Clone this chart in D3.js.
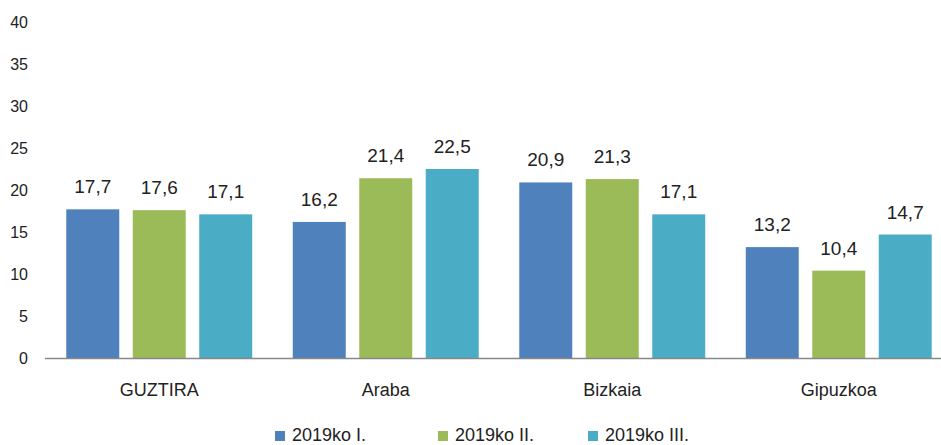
<!DOCTYPE html>
<html>
<head>
  <meta charset="utf-8">
  <title></title>
  <style type="text/css">
    body { margin: 0; background: #fff; }
    text { font-family: "Liberation Sans", Arial, sans-serif; fill: #222; }
  </style>
</head>
<body>
  <div id="my_dataviz"></div>
<script src="https://d3js.org/d3.v7.min.js"></script>
<script type="text/javascript">

  var categories = ["GUZTIRA", "Araba", "Bizkaia", "Gipuzkoa"];
  var seriesNames = ["2019ko I.", "2019ko II.", "2019ko III."];
  var q1 = [17.7, 16.2, 20.9, 13.2];
  var q2 = [17.6, 21.4, 21.3, 10.4];
  var q3 = [17.1, 22.5, 17.1, 14.7];
  var yTicks = [0, 5, 10, 15, 20, 25, 30, 35, 40];
  var colors = ["#4F81BD", "#9BBB59", "#4BACC6"];

  var series = [q1, q2, q3];
  var rows = categories.map(function(c, i) {
    return { cat: c, values: series.map(function(s, j) { return { key: seriesNames[j], value: s[i] }; }) };
  });

  var width = 941, height = 445;

  var svg = d3.select("#my_dataviz")
    .append("svg")
      .attr("width", width)
      .attr("height", height);

  var x = d3.scaleBand()
    .domain(categories)
    .range([46, 952])
    .paddingInner(0.179)
    .paddingOuter(0.0895);

  var xSub = d3.scaleBand()
    .domain(seriesNames)
    .range([0, x.bandwidth()])
    .paddingInner(0.203);

  var y = d3.scaleLinear()
    .domain([0, 40])
    .range([358, 22]);

  var color = d3.scaleOrdinal().domain(seriesNames).range(colors);

  // y axis labels only
  svg.append("g")
    .selectAll("text")
    .data(yTicks)
    .enter().append("text")
      .attr("x", 28)
      .attr("y", function(d) { return y(d); })
      .attr("dy", "0.35em")
      .attr("text-anchor", "end")
      .style("font-size", "16px")
      .text(function(d) { return d; });

  // bars
  var groups = svg.append("g")
    .selectAll("g")
    .data(rows)
    .enter().append("g")
      .attr("transform", function(d) { return "translate(" + x(d.cat) + ",0)"; });

  groups.selectAll("rect")
    .data(function(d) { return d.values; })
    .enter().append("rect")
      .attr("x", function(d) { return xSub(d.key); })
      .attr("y", function(d) { return y(d.value); })
      .attr("width", xSub.bandwidth())
      .attr("height", function(d) { return y(0) - y(d.value); })
      .attr("fill", function(d) { return color(d.key); });

  groups.selectAll("text.val")
    .data(function(d) { return d.values; })
    .enter().append("text")
      .attr("class", "val")
      .attr("x", function(d) { return xSub(d.key) + xSub.bandwidth() / 2; })
      .attr("y", function(d) { return y(d.value) - 16; })
      .attr("text-anchor", "middle")
      .style("font-size", "19px")
      .text(function(d) { return String(d.value).replace(".", ","); });

  // x axis line
  svg.append("line")
    .attr("x1", 45).attr("x2", width)
    .attr("y1", y(0) + 0.5).attr("y2", y(0) + 0.5)
    .attr("stroke", "#888")
    .attr("stroke-width", 1.5);

  // category labels
  svg.append("g")
    .selectAll("text")
    .data(categories)
    .enter().append("text")
      .attr("x", function(d) { return x(d) + x.bandwidth() / 2; })
      .attr("y", 396)
      .attr("text-anchor", "middle")
      .style("font-size", "18px")
      .text(function(d) { return d; });

  // legend
  var legendX = [275, 438, 588];
  var legend = svg.append("g")
    .selectAll("g")
    .data(seriesNames)
    .enter().append("g")
      .attr("transform", function(d, i) { return "translate(" + legendX[i] + ",0)"; });

  legend.append("rect")
    .attr("x", 0).attr("y", 431)
    .attr("width", 10).attr("height", 10)
    .attr("fill", function(d) { return color(d); });

  legend.append("text")
    .attr("x", 17)
    .attr("y", 441)
    .style("font-size", "18px")
    .text(function(d) { return d; });

</script>
</body>
</html>
